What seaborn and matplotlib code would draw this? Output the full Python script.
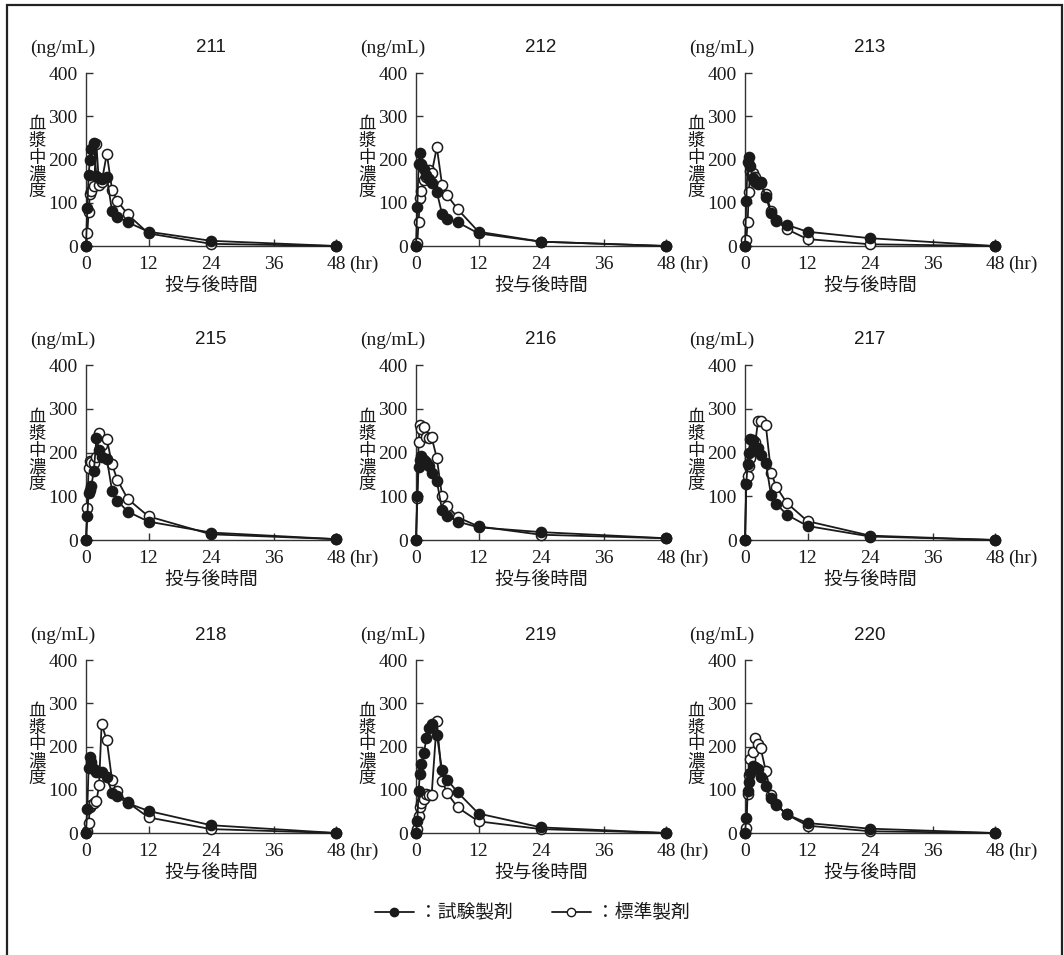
import matplotlib
matplotlib.use("Agg")
import matplotlib.pyplot as plt
import seaborn as sns
from matplotlib.lines import Line2D
from matplotlib.patches import Rectangle

# Sampling times (hr)
hours = [0, 0.25, 0.5, 0.75, 1, 1.5, 2, 2.5, 3, 4, 5, 6, 8, 12, 24, 48]

subjects = ["211", "212", "213", "215", "216", "217", "218", "219", "220"]

# Plasma concentration (ng/mL): test formulation (filled) / reference formulation (open)
test_211 = [0, 88, 165, 200, 225, 237, 162, 158, 155, 160, 80, 68, 55, 33, 12, 0]
ref_211 = [0, 30, 78, 120, 128, 138, 235, 142, 148, 213, 130, 105, 73, 29, 5, 0]

test_212 = [0, 91, 190, 214, 190, 178, 165, 155, 145, 125, 74, 63, 55, 29, 10, 0]
ref_212 = [0, 8, 56, 110, 127, 152, 160, 175, 168, 228, 142, 117, 85, 33, 10, 0]

test_213 = [0, 103, 195, 205, 185, 157, 147, 143, 147, 114, 76, 58, 49, 33, 18, 0]
ref_213 = [0, 14, 56, 126, 174, 168, 160, 148, 145, 120, 82, 60, 39, 16, 4, 0]

test_215 = [0, 55, 107, 115, 123, 157, 233, 205, 190, 185, 113, 90, 65, 42, 17, 2]
ref_215 = [0, 73, 165, 180, 178, 175, 190, 244, 218, 231, 173, 138, 94, 54, 13, 2]

test_216 = [0, 101, 168, 183, 191, 183, 179, 170, 154, 135, 69, 55, 42, 29, 18, 4]
ref_216 = [0, 95, 225, 262, 254, 258, 235, 233, 235, 187, 100, 78, 52, 31, 12, 4]

test_217 = [0, 129, 174, 200, 232, 229, 208, 210, 195, 177, 102, 83, 58, 32, 8, 0]
ref_217 = [0, 130, 146, 170, 187, 205, 225, 272, 272, 262, 154, 122, 85, 43, 10, 0]

test_218 = [0, 56, 151, 175, 165, 149, 142, 140, 140, 129, 93, 85, 69, 51, 18, 0]
ref_218 = [0, 5, 22, 60, 65, 69, 73, 110, 252, 214, 122, 96, 71, 36, 9, 0]

test_219 = [0, 27, 98, 137, 160, 184, 219, 242, 252, 227, 145, 123, 94, 45, 13, 0]
ref_219 = [0, 9, 39, 59, 70, 78, 90, 88, 88, 259, 121, 92, 59, 27, 9, 0]

test_220 = [0, 35, 98, 119, 138, 154, 152, 148, 130, 109, 80, 65, 43, 23, 10, 0]
ref_220 = [0, 12, 90, 133, 170, 188, 220, 205, 197, 143, 88, 66, 43, 17, 4, 0]

x_ticks = [0, 12, 24, 36, 48]
y_ticks = [0, 100, 200, 300, 400]

test_series = {"211": test_211, "212": test_212, "213": test_213,
               "215": test_215, "216": test_216, "217": test_217,
               "218": test_218, "219": test_219, "220": test_220}
ref_series = {"211": ref_211, "212": ref_212, "213": ref_213,
              "215": ref_215, "216": ref_216, "217": ref_217,
              "218": ref_218, "219": ref_219, "220": ref_220}

sns.set_style("ticks")
SERIF = "Liberation Serif"
SANS = "Liberation Sans"
CJK = ["Noto Sans CJK JP", "DejaVu Sans"]
plt.rcParams["font.family"] = [SERIF, "Noto Sans CJK JP", "DejaVu Sans"]

W, H = 1064, 955
fig = plt.figure(figsize=(W / 100, H / 100), dpi=100)


def fx(px):
    return px / W


def fy(py):
    return 1 - py / H


col_x = [86, 416, 745]
row_top = [73, 365, 660]
row_bot = [246, 540, 833]
axw = 250

ink = "#1a1a1a"
line_w = 1.3
ms = 7.3

for i, sid in enumerate(subjects):
    r, c = divmod(i, 3)
    x0, top, bot = col_x[c], row_top[r], row_bot[r]
    ax = fig.add_axes([fx(x0), fy(bot), axw / W, (bot - top) / H])

    sns.lineplot(x=hours, y=ref_series[sid], ax=ax, color=ink, linewidth=line_w,
                 marker="o", markersize=ms, markerfacecolor="white",
                 markeredgecolor=ink, markeredgewidth=1.1, clip_on=False, zorder=3)
    sns.lineplot(x=hours, y=test_series[sid], ax=ax, color=ink, linewidth=line_w,
                 marker="o", markersize=ms, markerfacecolor=ink,
                 markeredgecolor=ink, markeredgewidth=1.1, clip_on=False, zorder=4)

    ax.set_xlim(0, 48)
    ax.set_ylim(0, 400)
    ax.set_xticks(x_ticks)
    ax.set_yticks(y_ticks)
    ax.set_xticklabels([str(v) for v in x_ticks], fontsize=14, family=SERIF, color=ink)
    ax.set_yticklabels([str(v) for v in y_ticks], fontsize=14, family=SERIF, color=ink)
    ax.tick_params(axis="both", direction="in", length=5, width=1.0, color="#333333")
    ax.tick_params(axis="x", pad=7)
    ax.tick_params(axis="y", pad=6)
    ax.set_xlabel("")
    ax.set_ylabel("")
    for side in ("top", "right"):
        ax.spines[side].set_visible(False)
    for side in ("left", "bottom"):
        ax.spines[side].set_color("#333333")
        ax.spines[side].set_linewidth(1.0)
    ax.patch.set_alpha(0)

    # unit of the time axis, right after the last tick label
    ax.annotate("(hr)", xy=(1, 0), xycoords="axes fraction", xytext=(13, -10),
                textcoords="offset pixels", ha="left", va="top",
                fontsize=14, family=SERIF, color=ink)

    # panel header: unit on the left, subject number centred
    fig.text(fx(x0 - 23), fy(top - 25), "(ng/mL)", ha="center", va="center",
             fontsize=14, family=SERIF, color=ink)
    fig.text(fx(x0 + axw / 2), fy(top - 25), sid, ha="center", va="center",
             fontsize=13.5, family=SANS, color=ink)

    # vertical y-axis title, one character per line
    fig.text(fx(x0 - 49), fy((top + bot) / 2 - 2), "\n".join("血漿中濃度"),
             ha="center", va="center", linespacing=0.92,
             fontsize=12.5, family=CJK, color=ink)
    fig.text(fx(x0 + axw / 2), fy(bot + 40), "投与後時間", ha="center", va="center",
             fontsize=13.5, family=CJK, color=ink)

handles = [
    Line2D([], [], color=ink, linewidth=line_w, marker="o", markersize=6,
           markerfacecolor=ink, markeredgecolor=ink),
    Line2D([], [], color=ink, linewidth=line_w, marker="o", markersize=6,
           markerfacecolor="white", markeredgecolor=ink),
]
fig.legend(handles, ["：試験製剤", "：標準製剤"], loc="center",
           bbox_to_anchor=(fx(532), fy(913)), ncol=2, frameon=False,
           prop={"family": CJK, "size": 13.5}, handlelength=2.1,
           handletextpad=0.25, columnspacing=2.1, labelcolor=ink)

fig.add_artist(Rectangle((fx(7), fy(1000)), fx(1062) - fx(7), fy(5) - fy(1000),
                         transform=fig.transFigure, fill=False,
                         edgecolor="#222222", linewidth=1.6))

fig.savefig("out.png", dpi=100)
